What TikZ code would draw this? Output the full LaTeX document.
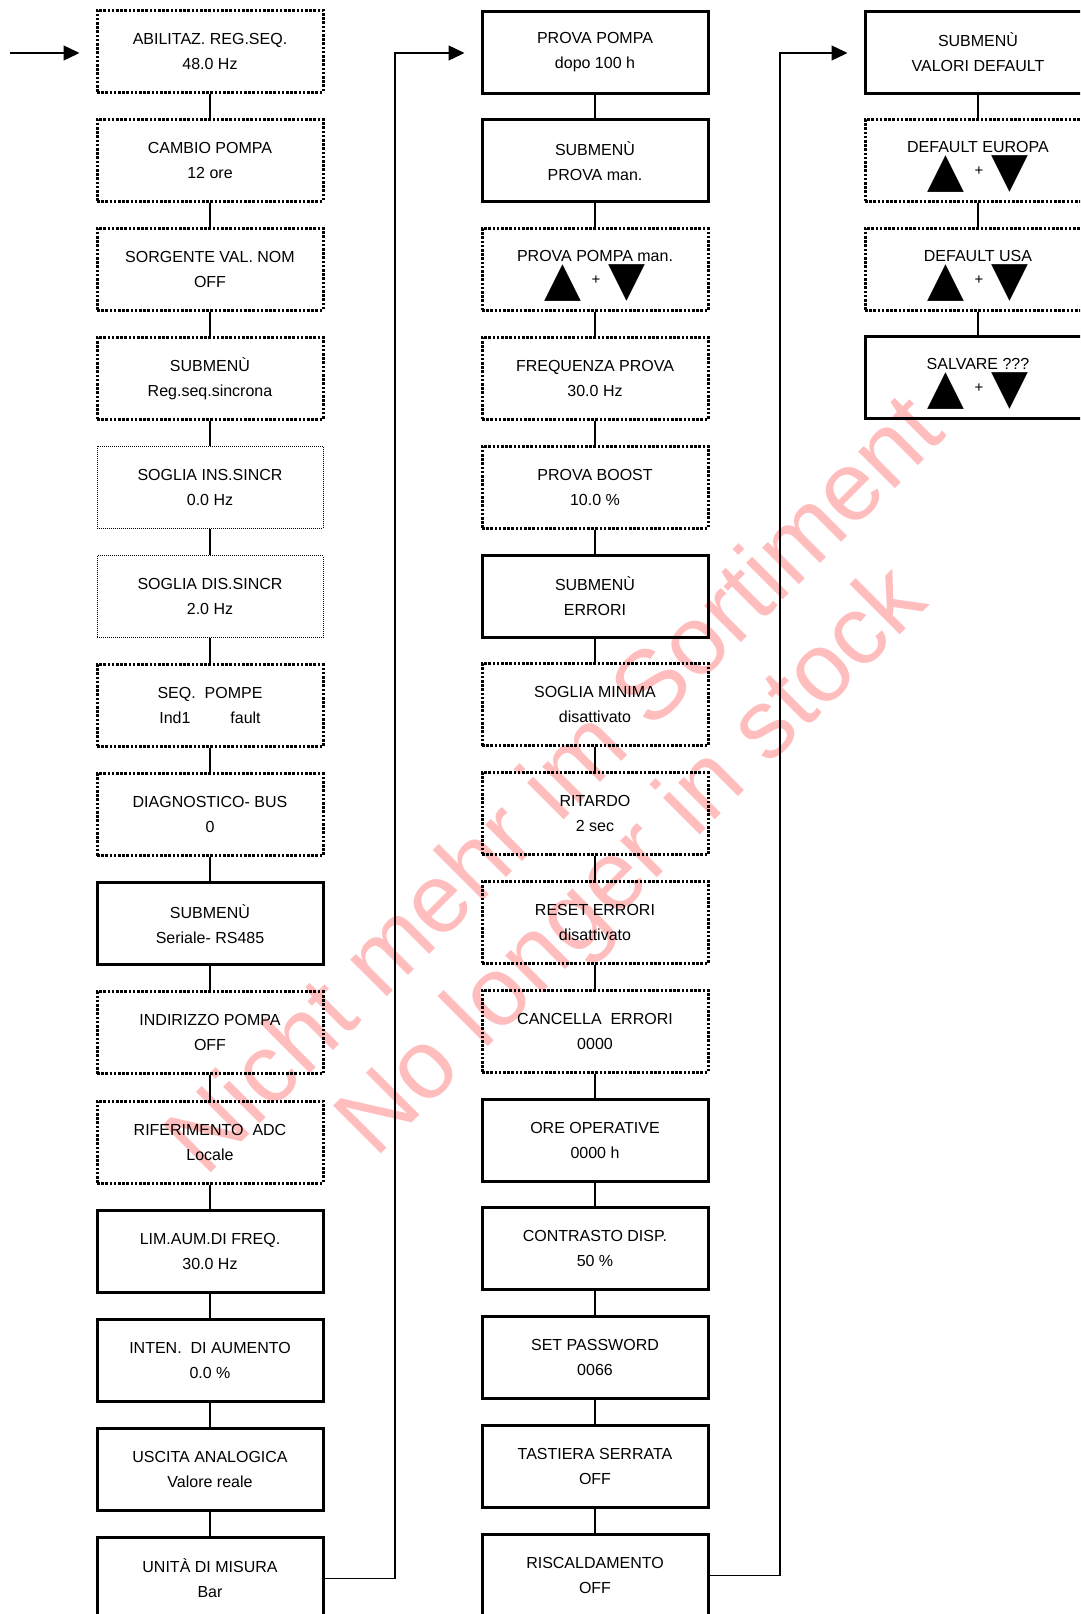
\documentclass[tikz,border=0pt]{standalone}
\usepackage{fontspec}
\setmainfont{Liberation Sans}
\newfontfamily\symf{DejaVu Sans}
\usetikzlibrary{arrows.meta}

% the two keys drawn in some of the boxes
\newcommand{\updn}{{\symf\fontsize{48}{48}\selectfont ▲}\hspace{10pt}%
  \raisebox{11pt}{\fontsize{15}{15}\selectfont +}\hspace{8pt}%
  {\symf\fontsize{48}{48}\selectfont ▼}}
\newcommand{\keybox}[1]{\rule{0pt}{24pt}#1\\[2pt]\updn}

\begin{document}
\begin{tikzpicture}[
  x=1pt, y=-1pt,
  box/.style    ={draw,rectangle,align=center,inner sep=0pt,
                  minimum width=226pt,minimum height=82pt,
                  font=\fontsize{16}{25}\selectfont},
  solidbox/.style={box,line width=3pt},
  dotbox/.style ={box,line width=3pt,dash pattern=on 2.6pt off 1.6pt},
  thinbox/.style={box,line width=1pt,dash pattern=on 1pt off 1pt},
  ln/.style     ={draw,line width=1.3pt},
  arr/.style    ={ln,-{Triangle[length=16pt,width=15pt]}},
  wm/.style     ={text=red!26,rotate=45,inner sep=0pt,
                  font=\fontsize{98}{98}\selectfont},
]
\useasboundingbox (0,0) rectangle (1080,1614);
\clip (0,0) rectangle (1080,1614);

% ----------------------------------------------------------- watermark
\node[wm] (wm1) at (552,782) {Nicht mehr im Sortiment};
\node[wm] (wm2) at (635,864) {No longer in stock};

% ----------------------------------------------------------- left column
\foreach \k/\sty/\txt in {
  1/dotbox/{ABILITAZ. REG.SEQ.\\48.0 Hz},
  2/dotbox/{CAMBIO POMPA\\12 ore},
  3/dotbox/{SORGENTE VAL. NOM\\OFF},
  4/dotbox/{SUBMENÙ\\Reg.seq.sincrona},
  5/thinbox/{SOGLIA INS.SINCR\\0.0 Hz},
  6/thinbox/{SOGLIA DIS.SINCR\\2.0 Hz},
  7/dotbox/{SEQ.\ \ POMPE\\Ind1\hspace{40pt}fault},
  8/dotbox/{DIAGNOSTICO- BUS\\0},
  9/solidbox/{SUBMENÙ\\Seriale- RS485},
  10/dotbox/{INDIRIZZO POMPA\\OFF},
  11/dotbox/{RIFERIMENTO\ \ ADC\\Locale},
  12/solidbox/{LIM.AUM.DI FREQ.\\30.0 Hz},
  13/solidbox/{INTEN.\ \ DI AUMENTO\\0.0 \%},
  14/solidbox/{USCITA ANALOGICA\\Valore reale},
  15/solidbox/{UNITÀ DI MISURA\\Bar}} {
  \node[\sty] (l\k) at (210, {51+109.1*(\k-1)}) {\txt};
}

% ----------------------------------------------------------- middle column
\foreach \k/\sty/\txt in {
  1/solidbox/{PROVA POMPA\\dopo 100 h},
  2/solidbox/{SUBMENÙ\\PROVA man.},
  3/dotbox/{\keybox{PROVA POMPA man.}},
  4/dotbox/{FREQUENZA PROVA\\30.0 Hz},
  5/dotbox/{PROVA BOOST\\10.0 \%},
  6/solidbox/{SUBMENÙ\\ERRORI},
  7/dotbox/{SOGLIA MINIMA\\disattivato},
  8/dotbox/{RITARDO\\2 sec},
  9/dotbox/{RESET ERRORI\\disattivato},
  10/dotbox/{CANCELLA\ \ ERRORI\\0000},
  11/solidbox/{ORE OPERATIVE\\0000 h},
  12/solidbox/{CONTRASTO DISP.\\50 \%},
  13/solidbox/{SET PASSWORD\\0066},
  14/solidbox/{TASTIERA SERRATA\\OFF},
  15/solidbox/{RISCALDAMENTO\\OFF}} {
  \node[\sty] (m\k) at (595, {52+108.8*(\k-1)}) {\txt};
}

% ----------------------------------------------------------- right column
\foreach \k/\sty/\txt in {
  1/solidbox/{SUBMENÙ\\VALORI DEFAULT},
  2/dotbox/{\keybox{DEFAULT EUROPA}},
  3/dotbox/{\keybox{DEFAULT USA}},
  4/solidbox/{\keybox{SALVARE ???}}} {
  \node[\sty] (r\k) at (978, {52+108.6*(\k-1)}) {\txt};
}

% ----------------------------------------------------------- links
\foreach \k in {1,...,14} {
  \pgfmathtruncatemacro\j{\k+1}
  \draw[ln] (l\k) -- (l\j);
  \draw[ln] (m\k) -- (m\j);
}
\foreach \k in {1,2,3} {
  \pgfmathtruncatemacro\j{\k+1}
  \draw[ln] (r\k) -- (r\j);
}

\coordinate (in) at (10,53);
\coordinate (j1) at (395,0);
\coordinate (j2) at (780,0);
\draw[arr] (in) -- ([xshift=-16pt]in -| l1.west);
\draw[arr] (l15.east) -| (j1 |- in) -- ([xshift=-16pt]in -| m1.west);
\draw[arr] (m15.east) -| (j2 |- in) -- ([xshift=-16pt]in -| r1.west);

\end{tikzpicture}
\end{document}
